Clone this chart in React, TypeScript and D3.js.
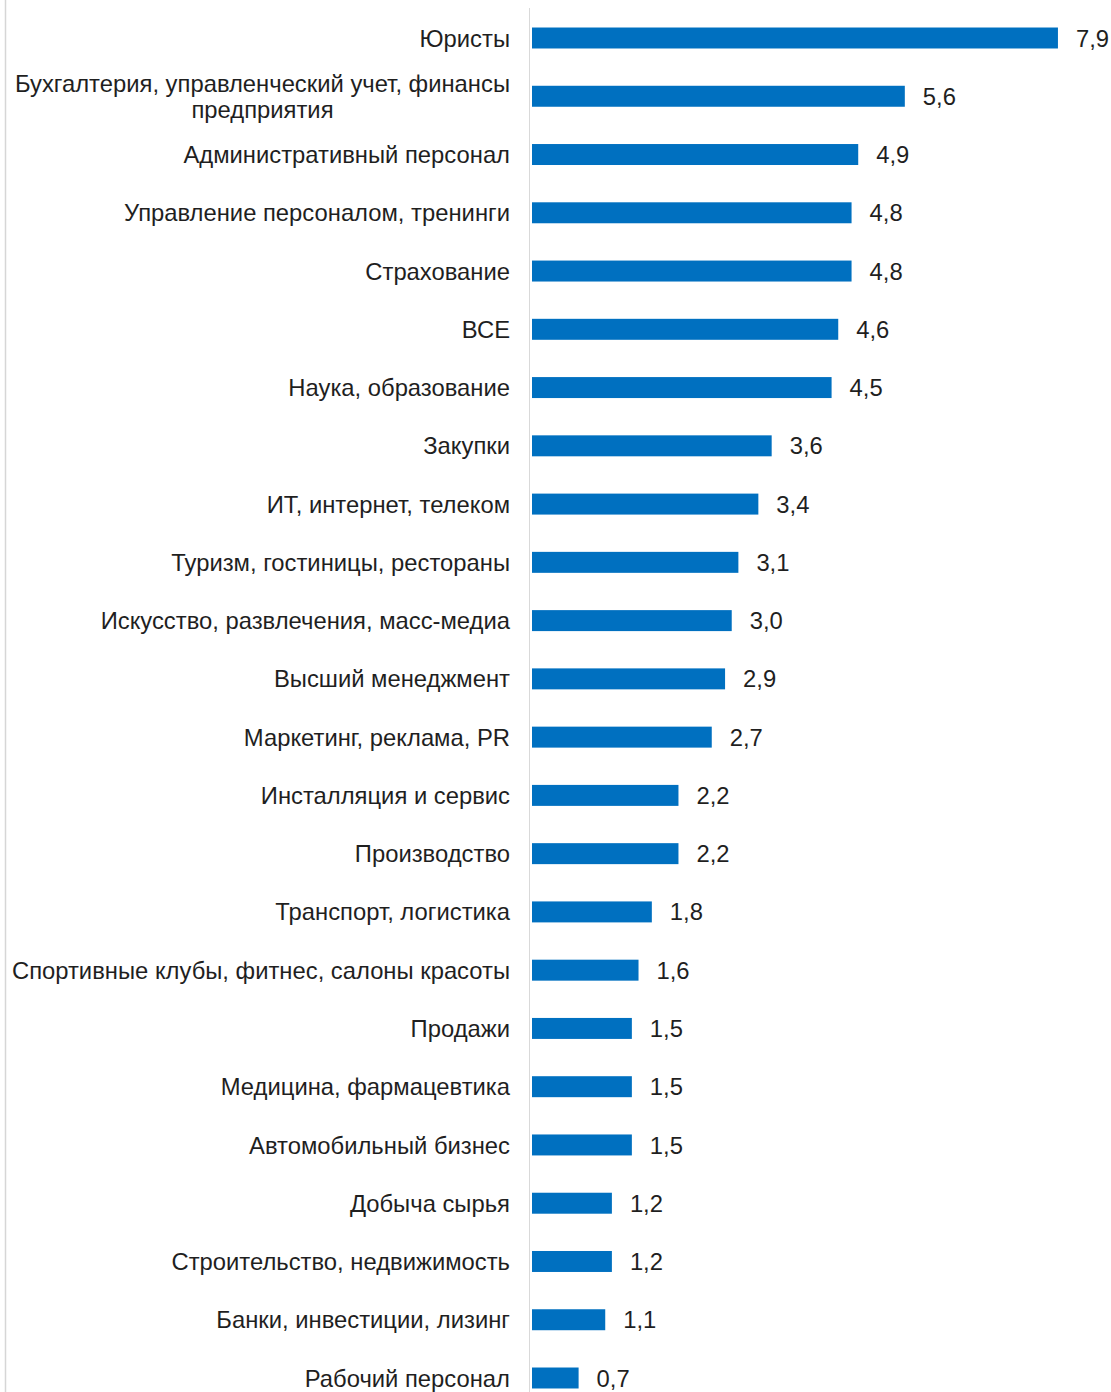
import React, { useEffect, useRef } from "react";
import * as d3 from "d3";

// Categories (top to bottom) and their values
const categories: string[] = [
  "Юристы",
  "Бухгалтерия, управленческий учет, финансы|предприятия",
  "Административный персонал",
  "Управление персоналом, тренинги",
  "Страхование",
  "ВСЕ",
  "Наука, образование",
  "Закупки",
  "ИТ, интернет, телеком",
  "Туризм, гостиницы, рестораны",
  "Искусство, развлечения, масс-медиа",
  "Высший менеджмент",
  "Маркетинг, реклама, PR",
  "Инсталляция и сервис",
  "Производство",
  "Транспорт, логистика",
  "Спортивные клубы, фитнес, салоны красоты",
  "Продажи",
  "Медицина, фармацевтика",
  "Автомобильный бизнес",
  "Добыча сырья",
  "Строительство, недвижимость",
  "Банки, инвестиции, лизинг",
  "Рабочий персонал",
];

const values: number[] = [
  7.9, 5.6, 4.9, 4.8, 4.8, 4.6, 4.5, 3.6, 3.4, 3.1, 3.0, 2.9, 2.7, 2.2, 2.2,
  1.8, 1.6, 1.5, 1.5, 1.5, 1.2, 1.2, 1.1, 0.7,
];

const W = 1111;
const H = 1392;
const FONT = "'Liberation Sans', Arial, Helvetica, sans-serif";
const FONT_SIZE = 23.8;
const BAR_COLOR = "#0070C0";
const TEXT_COLOR = "#1f1f1f";

const fmt = (v: number) => v.toFixed(1).replace(".", ",");

export default function App() {
  const ref = useRef<SVGSVGElement | null>(null);

  useEffect(() => {
    const svg = d3.select(ref.current);
    svg.selectAll("*").remove();

    const x = d3.scaleLinear().domain([0, 8]).range([532, 1064.6]);
    const y = d3
      .scaleBand<number>()
      .domain(d3.range(categories.length))
      .range([8.87, 1407.13])
      .paddingInner(0.64)
      .paddingOuter(0.32);

    svg
      .append("rect")
      .attr("width", W)
      .attr("height", H)
      .attr("fill", "#ffffff");

    // frame line on the left edge
    svg
      .append("line")
      .attr("x1", 5.5)
      .attr("x2", 5.5)
      .attr("y1", 0)
      .attr("y2", H)
      .attr("stroke", "#d6d6d6")
      .attr("stroke-width", 1.5);

    // category axis line
    svg
      .append("line")
      .attr("x1", 529.5)
      .attr("x2", 529.5)
      .attr("y1", 8)
      .attr("y2", H)
      .attr("stroke", "#d9d9d9")
      .attr("stroke-width", 1);

    const rows = svg
      .append("g")
      .selectAll("g")
      .data(values)
      .join("g");

    rows
      .append("rect")
      .attr("x", x(0))
      .attr("y", (_, i) => y(i)!)
      .attr("width", (d) => x(d) - x(0))
      .attr("height", y.bandwidth())
      .attr("fill", BAR_COLOR);

    rows
      .append("text")
      .attr("x", (d) => x(d) + 18)
      .attr("y", (_, i) => y(i)! + y.bandwidth() / 2)
      .attr("dy", "0.36em")
      .attr("font-family", FONT)
      .attr("font-size", FONT_SIZE)
      .attr("fill", TEXT_COLOR)
      .text((d) => fmt(d));

    const labelX = 510;
    const addLabel = (tx: number, ty: number, anchor: string, s: string) =>
      svg
        .append("text")
        .attr("x", tx)
        .attr("y", ty)
        .attr("dy", "0.36em")
        .attr("text-anchor", anchor)
        .attr("font-family", FONT)
        .attr("font-size", FONT_SIZE)
        .attr("fill", TEXT_COLOR)
        .text(s);

    categories.forEach((c, i) => {
      const cy = y(i)! + y.bandwidth() / 2;
      const lines = c.split("|");
      if (lines.length === 1) {
        addLabel(labelX, cy, "end", c);
      } else {
        const lh = 26;
        const first = addLabel(labelX, cy - lh / 2, "end", lines[0]);
        const w = (first.node() as SVGTextElement).getComputedTextLength();
        addLabel(labelX - w / 2, cy + lh / 2, "middle", lines[1]);
      }
    });
  }, []);

  return (
    <svg
      ref={ref}
      width={W}
      height={H}
      style={{ position: "absolute", left: 0, top: 0 }}
    />
  );
}
